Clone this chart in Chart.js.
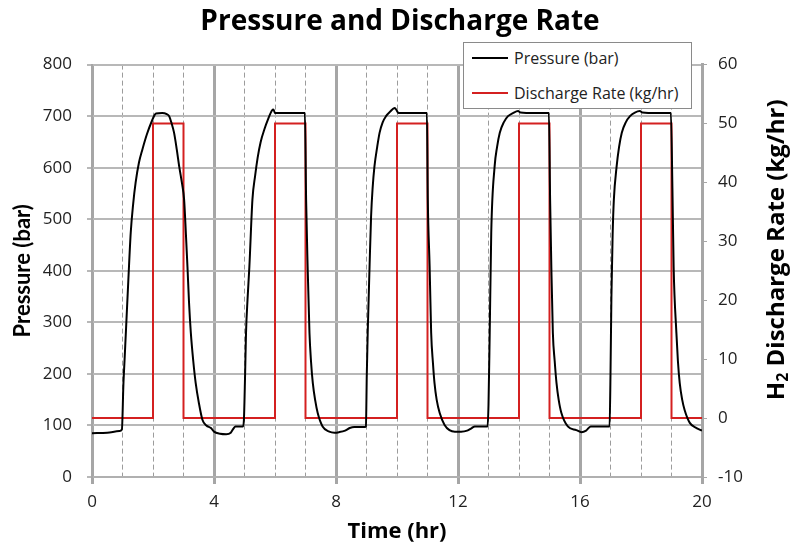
<!DOCTYPE html>
<html>
<head>
<meta charset="utf-8">
<title>Pressure and Discharge Rate</title>
<script src="https://cdn.jsdelivr.net/npm/chart.js@4.4.0/dist/chart.umd.min.js"></script>
<style>
  html, body { margin: 0; padding: 0; background: #fff; }
  #wrap { position: relative; width: 790px; height: 553px; }
  #chart { position: absolute; left: 0; top: 0; }
  #legend {
    position: absolute; left: 463px; top: 42px; width: 229px; height: 67px;
    box-sizing: border-box; border: 1px solid #8a8a8a; background: #fff;
    font-family: "Open Sans", sans-serif; font-size: 16px; color: #222;
  }
  .item { position: absolute; left: 8px; height: 22px; display: flex; align-items: center; white-space: nowrap; }
  .swatch { width: 36px; height: 2px; margin-right: 6px; }
</style>
</head>
<body>
<div id="wrap">
  <canvas id="chart" width="790" height="553"></canvas>
  <div id="legend">
    <div class="item" style="top:4px"><span class="swatch" style="background:#000"></span>Pressure (bar)</div>
    <div class="item" style="top:39px"><span class="swatch" style="background:#d42020"></span>Discharge Rate (kg/hr)</div>
  </div>
</div>
<script>
// ==============================
// DATA
// ==============================
const timeHr = [
  0, 0.5, 0.9, 0.98, 1.03, 1.07, 1.11, 1.19, 1.27, 1.35, 1.43, 1.54, 1.65, 1.8, 1.98, 2.05, 2.1, 2.3, 2.45,
  2.53, 2.6, 2.69, 2.78, 2.86, 2.95, 3.02, 3.08, 3.13, 3.18, 3.24, 3.32, 3.4, 3.5, 3.62, 3.75, 3.9,
  4.0, 4.2, 4.4, 4.55, 4.65, 4.7, 4.95,
  4.98, 5.02, 5.05, 5.1, 5.16, 5.26, 5.35, 5.43, 5.53, 5.65, 5.78, 5.9, 5.95, 6.0, 6.5, 6.98,
  7.02, 7.07, 7.13, 7.18, 7.24, 7.32, 7.4, 7.56, 7.78, 7.95, 8.1, 8.3, 8.45, 8.6, 8.95,
  8.98, 9.01, 9.04, 9.1, 9.15, 9.2, 9.26, 9.35, 9.43, 9.53, 9.64, 9.78, 9.92, 9.97, 10.05, 10.5, 10.98,
  11.01, 11.07, 11.12, 11.18, 11.23, 11.3, 11.4, 11.56, 11.72, 11.9, 12.1, 12.3, 12.45, 12.55, 12.97,
  13.0, 13.04, 13.09, 13.2, 13.28, 13.37, 13.5, 13.64, 13.8, 13.97, 14.05, 14.5, 14.98,
  15.02, 15.06, 15.11, 15.17, 15.23, 15.3, 15.39, 15.6, 15.88, 16.05, 16.2, 16.35, 16.97,
  17.0, 17.03, 17.07, 17.11, 17.2, 17.28, 17.37, 17.5, 17.64, 17.8, 17.96, 18.05, 18.5, 18.98,
  19.03, 19.07, 19.16, 19.21, 19.27, 19.35, 19.43, 19.6, 19.82, 20.0
];
const pressureBar = [
  85, 86, 89, 92, 180, 230, 280, 380, 474, 530, 571, 610, 635, 665, 693, 702, 705, 706, 704,
  700, 688, 668, 635, 602, 570, 538, 470, 408, 340, 280, 225, 182, 145, 111, 100, 95,
  88, 84, 83, 86, 95, 98, 98,
  110, 200, 280, 345, 408, 538, 585, 619, 650, 674, 695, 711, 713, 706, 706, 706,
  538, 408, 280, 225, 182, 148, 124, 98, 88, 86, 87, 90, 95, 97, 97,
  98, 200, 280, 408, 505, 560, 602, 640, 668, 688, 700, 709, 716, 713, 706, 706, 706,
  538, 408, 280, 220, 182, 150, 124, 101, 91, 88, 88, 90, 95, 98, 98,
  140, 280, 474, 602, 640, 668, 688, 700, 706, 710, 707, 706, 706,
  538, 408, 280, 225, 182, 150, 124, 98, 91, 87, 90, 98, 98,
  200, 350, 470, 538, 602, 640, 668, 688, 700, 707, 710, 707, 706, 706,
  560, 408, 280, 225, 182, 150, 130, 105, 95, 90
];
const rateTime = [0, 2, 3, 6, 7, 10, 11, 14, 15, 18, 19, 20];
const rateKgHr = [0, 50, 0, 50, 0, 50, 0, 50, 0, 50, 0, 0];

const xTicksShown = [0, 4, 8, 12, 16, 20];

// ==============================
// RIGHT AXIS TITLE (reads bottom to top, with subscript)
// ==============================
const rightTitle = {
  id: "rightTitle",
  afterDraw(chart) {
    const ctx = chart.ctx;
    const area = chart.chartArea;
    const big = "bold 24px 'Open Sans'";
    const small = "bold 16px 'Open Sans'";
    ctx.save();
    ctx.font = big;
    const wH = ctx.measureText("H").width;
    const wRest = ctx.measureText(" Discharge Rate (kg/hr)").width;
    ctx.font = small;
    const w2 = ctx.measureText("2").width;
    const total = wH + w2 + wRest;
    ctx.translate(chart.width - 14, (area.top + area.bottom) / 2 - 21);
    ctx.rotate(-Math.PI / 2);
    ctx.fillStyle = "#000";
    ctx.textBaseline = "alphabetic";
    let x = -total / 2;
    ctx.font = big;
    ctx.fillText("H", x, 8);
    x += wH;
    ctx.font = small;
    ctx.fillText("2", x, 12);
    x += w2;
    ctx.font = big;
    ctx.fillText(" Discharge Rate (kg/hr)", x, 8);
    ctx.restore();
  },
};

// ==============================
// CHART
// ==============================
const isMajor = (c) => c.tick && xTicksShown.includes(c.tick.value);

const ctx1 = document.getElementById("chart").getContext("2d");
const chart = new Chart(ctx1, {
  type: "line",
  data: {
    datasets: [
      {
        label: "Pressure (bar)",
        data: timeHr.map((t, i) => ({ x: t, y: pressureBar[i] })),
        borderColor: "#000",
        borderWidth: 2,
        pointRadius: 0,
        cubicInterpolationMode: "monotone",
        yAxisID: "y",
      },
      {
        label: "Discharge Rate (kg/hr)",
        data: rateTime.map((t, i) => ({ x: t, y: rateKgHr[i] })),
        borderColor: "#d42020",
        borderWidth: 2,
        pointRadius: 0,
        stepped: true,
        yAxisID: "y1",
      },
    ],
  },
  options: {
    responsive: false,
    animation: false,
    devicePixelRatio: 1,
    layout: { padding: { left: 10, right: 0, top: 0, bottom: 0 } },
    plugins: {
      legend: { display: false },
      tooltip: { enabled: false },
      title: {
        display: true,
        text: "Pressure and Discharge Rate",
        color: "#000",
        font: { family: "Open Sans", size: 28, weight: "bold" },
        padding: { top: 5, bottom: 26 },
      },
    },
    scales: {
      x: {
        type: "linear",
        min: 0,
        max: 20,
        afterFit: (s) => { s.height = 76; },
        ticks: {
          stepSize: 1,
          autoSkip: false,
          maxRotation: 0,
          padding: 8,
          color: "#222",
          font: { family: "Open Sans", size: 17 },
          callback: (v) => (xTicksShown.includes(v) ? v : ""),
        },
        grid: {
          color: (c) => (isMajor(c) ? "#a6a6a6" : "#9c9c9c"),
          lineWidth: (c) => (isMajor(c) ? 3 : 1),
          tickLength: 7,
          tickColor: (c) => (isMajor(c) ? "#a6a6a6" : "rgba(0,0,0,0)"),
        },
        border: {
          color: "#b0b0b0",
          width: 2,
          dash: (c) => (c.tick && !xTicksShown.includes(c.tick.value) ? [5, 3] : []),
        },
        title: {
          display: true,
          text: "Time (hr)",
          color: "#000",
          font: { family: "Open Sans", size: 22, weight: "bold" },
          padding: { top: 2, bottom: 8 },
        },
      },
      y: {
        position: "left",
        min: 0,
        max: 800,
        afterFit: (s) => { s.width = 82; },
        ticks: {
          stepSize: 100,
          padding: 15,
          color: "#222",
          font: { family: "Open Sans", size: 17 },
        },
        grid: { color: "#b8b8b8", lineWidth: 2, tickLength: 5 },
        border: { color: "#a6a6a6", width: 2 },
        title: {
          display: true,
          text: "Pressure (bar)",
          color: "#000",
          font: { family: "Lato", size: 22, weight: "bold" },
          padding: { top: 0, bottom: 8 },
        },
      },
      y1: {
        position: "right",
        min: -10,
        max: 60,
        afterFit: (s) => { s.width = 88; },
        ticks: {
          stepSize: 10,
          padding: 11,
          color: "#222",
          font: { family: "Open Sans", size: 17 },
        },
        grid: { drawOnChartArea: false, color: "#a6a6a6", tickLength: 5 },
        border: { color: "#a6a6a6", width: 3 },
      },
    },
  },
  plugins: [rightTitle],
});
</script>
</body>
</html>
